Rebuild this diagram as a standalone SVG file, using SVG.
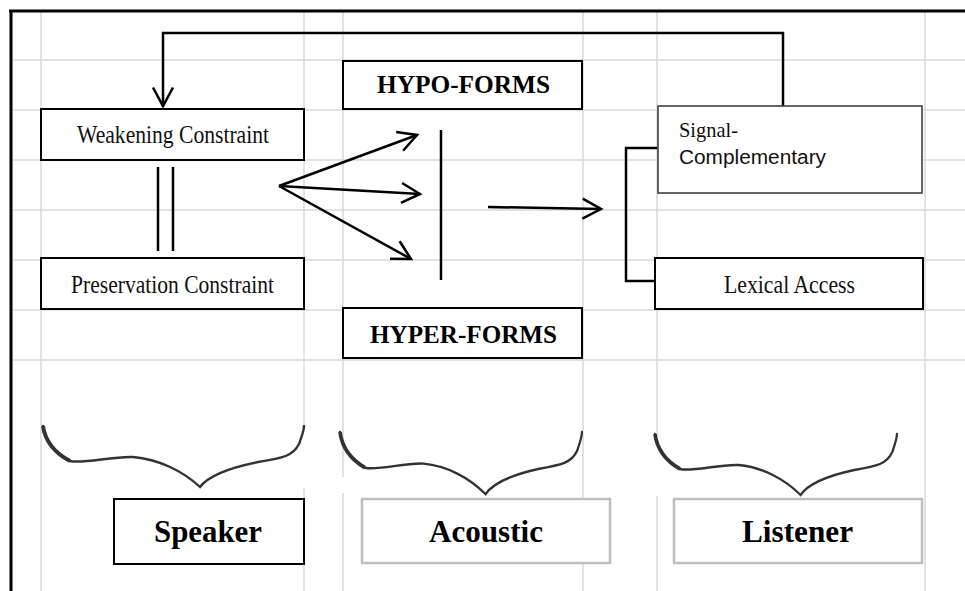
<svg xmlns="http://www.w3.org/2000/svg" width="965" height="591" viewBox="0 0 965 591">
<style>
.grid{stroke:#d9d9d9;stroke-width:1.5;fill:none}
.box{fill:#fff;stroke:#000;stroke-width:2}
.gbox{fill:#fff;stroke:#bfbfbf;stroke-width:2.5}
.line{stroke:#000;stroke-width:2.5;fill:none}
.brace{stroke:#333;stroke-width:2.4;fill:none;stroke-linecap:round}
.t{font-family:"Liberation Serif","Times New Roman",serif;font-size:24.5px;fill:#111}
.tb{font-family:"Liberation Serif","Times New Roman",serif;font-weight:bold;fill:#000}
.s{font-family:"Liberation Sans",Arial,sans-serif;font-size:20px;fill:#111}
</style>
<defs>
<marker id="ah" viewBox="0 0 20 20" markerUnits="userSpaceOnUse" markerWidth="20" markerHeight="20" refX="18.5" refY="10" orient="auto" overflow="visible">
<path d="M0,0 L18.5,10 L0,20" fill="none" stroke="#000" stroke-width="2.5"/>
</marker>
<path id="brace" d="M0,0 C2,14 10,26 27,35 C40,38 70,30 90,31 C115,33 140,45 157,61 C165,50 185,42 215,36 C240,32 250,30 256,18 C259,10 261,4 261,0"/>
</defs>
<rect width="965" height="591" fill="#fff"/>
<g id="grid">
<path class="grid" d="M13,60H965M13,110H965M13,160H965M13,210H965M13,260H965M13,310H965M13,360H965"/>
<path class="grid" d="M41,12V591M304,12V591M343,12V591M583,12V591M657,12V591M925,12V591"/>
</g>
<g id="frame">
<path d="M9,11H965" stroke="#000" stroke-width="3"/>
<path d="M11,10V591" stroke="#000" stroke-width="3"/>
</g>
<g id="connectors">
<path class="line" d="M783,106V33H163V106" marker-end="url(#ah)"/>
<path class="line" d="M158,167V251M173,167V251"/>
<path class="line" d="M279,186L417,135" marker-end="url(#ah)"/>
<path class="line" d="M279,186L420,194" marker-end="url(#ah)"/>
<path class="line" d="M279,186L411,259" marker-end="url(#ah)"/>
<path class="line" d="M441,130V280"/>
<path class="line" d="M488,207L601,209" marker-end="url(#ah)"/>
<path class="line" d="M657,148H626V281H656"/>
</g>
<g id="weakening">
<rect class="box" x="41" y="109" width="263" height="51"/>
<text class="t" x="173" y="143" text-anchor="middle" textLength="192" lengthAdjust="spacingAndGlyphs">Weakening Constraint</text>
</g>
<g id="preservation">
<rect class="box" x="41" y="258" width="263" height="51"/>
<text class="t" x="172.5" y="293" text-anchor="middle" textLength="203" lengthAdjust="spacingAndGlyphs">Preservation Constraint</text>
</g>
<g id="hypo">
<rect class="box" x="343" y="61" width="239" height="48"/>
<text class="tb" x="463.5" y="93" font-size="26" text-anchor="middle" textLength="173" lengthAdjust="spacingAndGlyphs">HYPO-FORMS</text>
</g>
<g id="hyper">
<rect class="box" x="343" y="308" width="239" height="50"/>
<text class="tb" x="463.5" y="343" font-size="26" text-anchor="middle" textLength="187" lengthAdjust="spacingAndGlyphs">HYPER-FORMS</text>
</g>
<g id="signal">
<rect x="658" y="106" width="264" height="87" fill="#fff" stroke="#404040" stroke-width="1.6"/>
<text class="t" x="679" y="137" font-size="21" style="font-size:21px" textLength="59" lengthAdjust="spacingAndGlyphs">Signal-</text>
<text class="s" x="679" y="164" textLength="147" lengthAdjust="spacingAndGlyphs">Complementary</text>
</g>
<g id="lexical">
<rect class="box" x="655" y="258" width="268" height="51"/>
<text class="t" x="789.5" y="293" text-anchor="middle" textLength="131" lengthAdjust="spacingAndGlyphs">Lexical Access</text>
</g>
<g id="speaker-brace">
<rect x="43" y="424" width="262" height="64" fill="#fff"/>
<use href="#brace" class="brace" transform="translate(43,426)"/>
<path d="M0,0 C2,14 10,26 27,35" transform="translate(43,426)" stroke="#333" stroke-width="4" fill="none"/>
</g>
<g id="acoustic-brace">
<rect x="340" y="477" width="6" height="16" fill="#fff"/>
<use href="#brace" class="brace" transform="translate(340,432) scale(0.927,1.02)"/>
<path d="M0,0 C2,14 10,26 27,35" transform="translate(340,432) scale(0.927,1.02)" stroke="#333" stroke-width="4" fill="none"/>
</g>
<g id="listener-brace">
<rect x="654" y="436" width="6" height="60" fill="#fff"/>
<use href="#brace" class="brace" transform="translate(655,434) scale(0.927,1)"/>
<path d="M0,0 C2,14 10,26 27,35" transform="translate(655,434) scale(0.927,1)" stroke="#333" stroke-width="4" fill="none"/>
</g>
<g id="speaker">
<rect class="box" x="114" y="499" width="190" height="65"/>
<text class="tb" x="208" y="542" font-size="32.5" text-anchor="middle" textLength="108" lengthAdjust="spacingAndGlyphs">Speaker</text>
</g>
<g id="acoustic">
<rect class="gbox" x="362" y="499" width="248" height="64"/>
<text class="tb" x="486" y="542" font-size="32.5" text-anchor="middle" textLength="114" lengthAdjust="spacingAndGlyphs">Acoustic</text>
</g>
<g id="listener">
<rect class="gbox" x="674" y="499" width="248" height="64"/>
<text class="tb" x="797.5" y="542" font-size="32.5" text-anchor="middle" textLength="111" lengthAdjust="spacingAndGlyphs">Listener</text>
</g>
</svg>
